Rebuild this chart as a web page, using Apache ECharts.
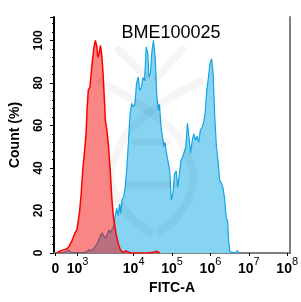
<!DOCTYPE html>
<html><head><meta charset="utf-8">
<script src="https://cdn.jsdelivr.net/npm/echarts@6/dist/echarts.min.js"></script>
<style>html,body{margin:0;padding:0;background:#fff}#c{width:301px;height:302px}</style>
</head><body><div id="c"></div>
<script>
// x values are positions on the display (biexponential) scale, in decades: 4 = 10^4
const xTickValues = [1.96, 2.54, 4, 5, 6, 7, 8];
const xTickLabels = ['0', '10^3', '10^4', '10^5', '10^6', '10^7', '10^8'];
const yTickValues = [0, 20, 40, 60, 80, 100];

const redX = [2.0, 2.088, 2.214, 2.297, 2.382, 2.465, 2.523, 2.548, 2.591, 2.634, 2.674, 2.717, 2.760, 2.785, 2.818, 2.860, 2.886, 2.926, 2.969, 3.001, 3.036, 3.069, 3.102, 3.137, 3.170, 3.203, 3.238, 3.263, 3.303, 3.346, 3.389, 3.429, 3.472, 3.540, 3.597, 3.655, 3.723, 3.806, 3.892, 3.95, 4.35, 4.40, 4.50, 4.60, 4.68];
const redY = [0, 1, 1.7, 2.5, 5.3, 9.2, 11, 14, 19.4, 28, 39, 47, 56, 67, 76.5, 78, 83, 90.6, 97, 100, 97.6, 92, 94, 97.6, 93, 84.5, 72, 62.4, 57.7, 50, 39, 26.4, 17, 9.2, 4.5, 1.4, 0.3, 1, 0.2, 0, 0, 0.8, 0.3, 0.8, 0];

const blueX = [2.164, 2.239, 2.302, 2.365, 2.465, 2.667, 2.767, 2.843, 2.918, 2.994, 3.052, 3.119, 3.177, 3.220, 3.270, 3.321, 3.358, 3.396, 3.447, 3.484, 3.522, 3.560, 3.597, 3.635, 3.660, 3.698, 3.741, 3.781, 3.824, 3.867, 3.907, 3.950, 3.992, 4.033, 4.075, 4.118, 4.158, 4.201, 4.244, 4.284, 4.327, 4.370, 4.395, 4.435, 4.478, 4.516, 4.561, 4.604, 4.647, 4.672, 4.712, 4.755, 4.787, 4.813, 4.855, 4.898, 4.938, 4.981, 5.024, 5.064, 5.107, 5.150, 5.190, 5.233, 5.275, 5.316, 5.358, 5.401, 5.442, 5.484, 5.527, 5.567, 5.610, 5.653, 5.693, 5.736, 5.779, 5.819, 5.862, 5.904, 5.945, 5.987, 6.030, 6.070, 6.113, 6.156, 6.196, 6.239, 6.282, 6.322, 6.365, 6.408, 6.448, 6.473, 6.508, 6.541, 6.662, 6.699, 6.736];
const blueY = [0, 0.8, 1.5, 0.3, 0, 0, 0.5, 1.5, 1.2, 3, 4.5, 7.5, 9.5, 8, 7, 9.5, 10.8, 9.4, 11.5, 12.5, 18, 21, 17.5, 23, 18.5, 25, 26.5, 31, 40.5, 53, 65.6, 70.3, 68.7, 70, 79.7, 82.8, 76.5, 78, 82.5, 81, 96.9, 93.7, 82.8, 84.4, 95.3, 100, 92.2, 73.4, 67, 70, 59.3, 59, 50, 52, 46.9, 46, 39, 25, 28, 37.4, 38.5, 31, 37, 43.7, 45, 45, 50, 61, 61, 47, 53, 56, 53, 55, 52, 57.7, 59, 61, 65.7, 76.5, 82, 89, 91.4, 84.4, 64, 50, 43.7, 34.3, 33, 31, 26.4, 17, 15, 6, 0.5, 0, 0, 1.2, 0];

const pair = (xs, ys) => xs.map((x, i) => [x, ys[i]]);

const chart = echarts.init(document.getElementById('c'), null, {renderer: 'canvas'});
const wm = 'rgba(0,0,0,0.04)';
const border = {show: true, lineStyle: {color: '#7f7f7f', width: 2}};
chart.setOption({
  animation: false,
  grid: {left: 49, right: 8, top: 17, bottom: 49},
  xAxis: [{
    type: 'value', min: 1.925, max: 8.075,
    name: 'FITC-A', nameLocation: 'middle', nameGap: 28,
    nameTextStyle: {fontFamily: 'Liberation Sans', fontWeight: 'bold', fontSize: 14, color: '#000'},
    axisLine: {onZero: false, lineStyle: {color: '#000', width: 2}},
    axisTick: {show: true, length: 3, customValues: xTickValues, lineStyle: {color: '#000'}},
    splitLine: {show: false},
    axisLabel: {
      customValues: xTickValues, margin: 3, color: '#000',
      formatter: function (v) {
        let idx = 0, best = 1e9;
        xTickValues.forEach((t, i) => { if (Math.abs(t - v) < best) { best = Math.abs(t - v); idx = i; } });
        const s = xTickLabels[idx].split('^');
        return s.length > 1 ? '{b|' + s[0] + '}{s|' + s[1] + '}' : '{b|' + s[0] + '}';
      },
      rich: {
        b: {fontFamily: 'Liberation Sans', fontWeight: 'bold', fontSize: 14, lineHeight: 20, verticalAlign: 'bottom', color: '#000'},
        s: {fontFamily: 'Liberation Sans', fontWeight: 'normal', fontSize: 11, lineHeight: 11, verticalAlign: 'top', color: '#000'}
      }
    }
  }, {
    type: 'value', position: 'top', min: 1.925, max: 8.075,
    axisLine: border, axisTick: {show: false}, axisLabel: {show: false}, splitLine: {show: false}
  }],
  yAxis: [{
    type: 'value', min: 0, max: 111, interval: 20,
    name: 'Count (%)', nameLocation: 'middle', nameGap: 32, nameRotate: 90,
    nameTextStyle: {fontFamily: 'Liberation Sans', fontWeight: 'bold', fontSize: 14, color: '#000'},
    axisLine: {onZero: false, lineStyle: {color: '#000', width: 2}},
    axisTick: {show: true, length: 4, lineStyle: {color: '#000'}},
    minorTick: {show: true, splitNumber: 5, length: 2, lineStyle: {color: '#000'}},
    splitLine: {show: false},
    axisLabel: {
      rotate: 90, margin: 9, color: '#000', fontFamily: 'Liberation Sans', fontWeight: 'bold', fontSize: 12,
      formatter: v => (yTickValues.indexOf(v) >= 0 ? String(v) : '')
    }
  }, {
    type: 'value', position: 'right', min: 0, max: 111,
    axisLine: border, axisTick: {show: false}, axisLabel: {show: false}, splitLine: {show: false}
  }],
  graphic: [
    {type: 'text', x: 171, y: 33, silent: true, z: 10,
     style: {text: 'BME100025', textAlign: 'center', textVerticalAlign: 'middle', font: '18px "Liberation Sans"', fill: '#000'}},
    {type: 'polyline', silent: true, z: 5, shape: {points: [[119, 50], [146, 77]]}, style: {stroke: wm, lineWidth: 8, lineCap: 'round', fill: null}},
    {type: 'polyline', silent: true, z: 5, shape: {points: [[182, 50], [157, 77]]}, style: {stroke: wm, lineWidth: 8, lineCap: 'round', fill: null}},
    {type: 'polyline', silent: true, z: 5, shape: {points: [[100, 82], [150, 112], [185, 150], [190, 195], [160, 232]], smooth: 0.5}, style: {stroke: wm, lineWidth: 8, lineCap: 'round', fill: null}},
    {type: 'polyline', silent: true, z: 5, shape: {points: [[200, 82], [150, 112], [118, 150], [115, 195], [150, 232]], smooth: 0.5}, style: {stroke: wm, lineWidth: 8, lineCap: 'round', fill: null}},
    {type: 'polyline', silent: true, z: 5, shape: {points: [[135, 142], [168, 142]]}, style: {stroke: wm, lineWidth: 7, lineCap: 'round', fill: null}},
    {type: 'polyline', silent: true, z: 5, shape: {points: [[128, 185], [175, 185]]}, style: {stroke: wm, lineWidth: 7, lineCap: 'round', fill: null}}
  ],
  series: [
    {type: 'line', data: pair(blueX, blueY), showSymbol: false, symbol: 'none', z: 2,
     lineStyle: {color: '#16A6E2', width: 1.2}, areaStyle: {color: '#87D3F2', opacity: 1}},
    {type: 'line', data: pair(redX, redY), showSymbol: false, symbol: 'none', z: 3,
     lineStyle: {color: '#FF0000', width: 1.5}, areaStyle: {color: 'rgba(245,0,0,0.48)', opacity: 1}}
  ]
});
</script></body></html>
